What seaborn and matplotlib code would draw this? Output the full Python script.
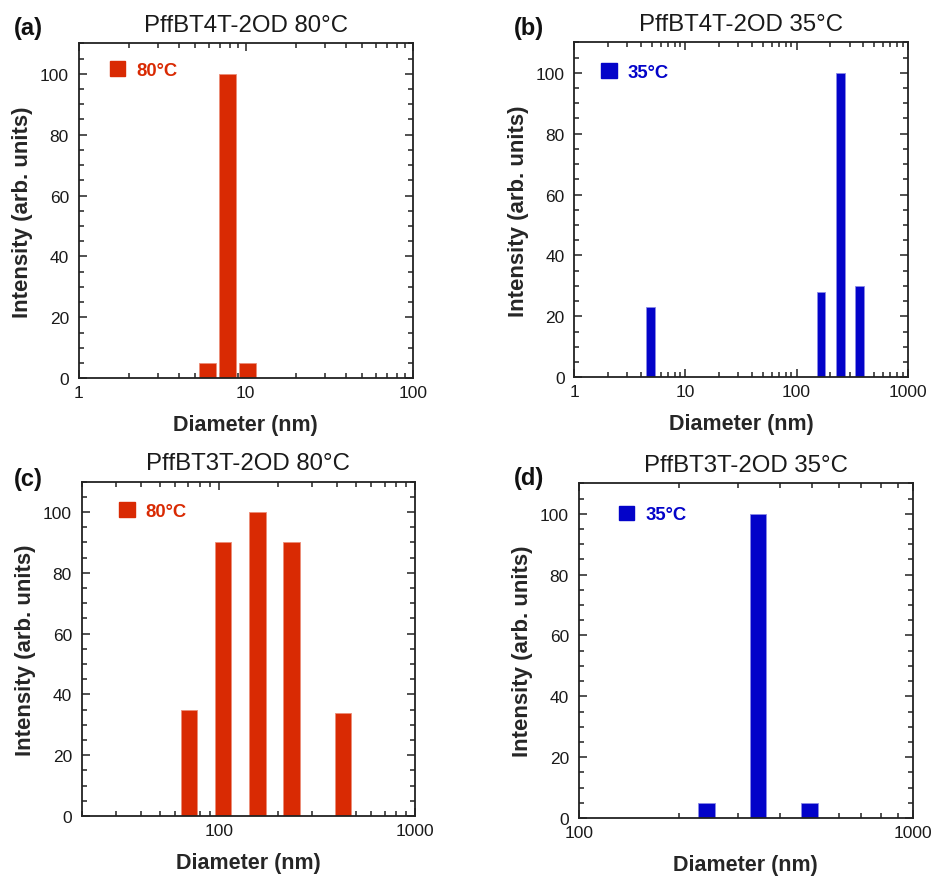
import numpy as np
import pandas as pd
import matplotlib
matplotlib.use("Agg")
import matplotlib.pyplot as plt
import matplotlib.ticker as mticker
from matplotlib.patches import Patch
import seaborn as sns

# Size distributions (diameter in nm, intensity in arb. units)
diam_a = [5.9, 7.8, 10.3]
int_a = [5, 100, 5]

diam_b = [4.83, 166, 247, 366]
int_b = [23, 28, 100, 30]

diam_c = [70.4, 105, 157, 235, 429]
int_c = [35, 90, 100, 90, 34]

diam_d = [241, 344, 491]
int_d = [5, 100, 5]

titles = ["PffBT4T-2OD 80°C", "PffBT4T-2OD 35°C",
          "PffBT3T-2OD 80°C", "PffBT3T-2OD 35°C"]
panel_tags = ["(a)", "(b)", "(c)", "(d)"]
temps = ["80°C", "35°C", "80°C", "35°C"]
xlims = [(1, 100), (1, 1000), (20, 1000), (100, 1000)]
ylim = (0, 110)

RED = "#D92A03"
BLUE = "#0303C9"
colors = [RED, BLUE, RED, BLUE]
edge_colors = ["#EC8E78", "#8A8AE6", "#EC8E78", "#8A8AE6"]

sns.set_theme(style="ticks")
plt.rcParams["font.family"] = ["Liberation Sans", "DejaVu Sans"]

W, H = 937, 879
fig = plt.figure(figsize=(W / 100, H / 100), dpi=100)

# axes boxes in pixels: left, top, right, bottom
boxes = [(78.7, 44.3, 412.7, 379.3),
         (574.3, 43.3, 907.7, 378.3),
         (81.7, 482.7, 415.0, 817.0),
         (578.7, 484.3, 913.0, 819.0)]
bar_px = [16.7, 8.8, 16.7, 16.7]
legend_off = [(31.3, 18.0), (27.0, 21.0), (37.6, 20.5), (40.0, 22.5)]
tag_pos = [(14, 29), (513.7, 28.5), (14, 480), (514, 478.5)]

panels = [(diam_a, int_a), (diam_b, int_b), (diam_c, int_c), (diam_d, int_d)]

for i, (diam, inten) in enumerate(panels):
    l, t, r, b = boxes[i]
    ax = fig.add_axes([l / W, 1 - b / H, (r - l) / W, (b - t) / H])
    xmin, xmax = xlims[i]

    # bar width: fixed on-screen width expressed in decades
    decades = np.log10(xmax / xmin)
    bar_dec = bar_px[i] / (r - l) * decades
    native = np.min(np.diff(np.log10(sorted(diam))))

    df = pd.DataFrame({"diameter": diam, "intensity": inten})
    sns.barplot(data=df, x="diameter", y="intensity", orient="x",
                native_scale=True, log_scale=(True, False),
                width=bar_dec / native, color=colors[i], saturation=1,
                errorbar=None, edgecolor=edge_colors[i], linewidth=0.6, ax=ax)

    ax.set_xlim(xmin, xmax)
    ax.set_ylim(*ylim)
    ax.xaxis.set_major_locator(mticker.LogLocator(base=10, numticks=10))
    ax.xaxis.set_minor_locator(mticker.LogLocator(base=10, subs=np.arange(2, 10), numticks=30))
    ax.xaxis.set_major_formatter(mticker.FuncFormatter(lambda v, _: f"{v:g}"))
    ax.xaxis.set_minor_formatter(mticker.NullFormatter())
    ax.yaxis.set_major_locator(mticker.MultipleLocator(20))
    ax.yaxis.set_minor_locator(mticker.MultipleLocator(5))

    ax.tick_params(which="both", direction="in", top=True, right=True,
                   width=1.1, color="#222222", labelcolor="#1a1a1a")
    ax.tick_params(which="major", length=5.5)
    ax.tick_params(which="minor", length=3.3)
    ax.tick_params(axis="y", pad=7, labelsize=12.5)
    ax.tick_params(axis="x", pad=5, labelsize=12.5)
    for s in ax.spines.values():
        s.set_visible(True)
        s.set_linewidth(1.3)
        s.set_color("#222222")

    ax.set_xlabel("Diameter (nm)", fontsize=15.5, fontweight="bold", labelpad=10)
    ax.set_ylabel("Intensity (arb. units)", fontsize=16, fontweight="bold", labelpad=5)
    ax.set_title(titles[i], fontsize=17.3, pad=9, color="#1a1a1a")

    ox, oy = legend_off[i]
    handle = Patch(facecolor=colors[i], edgecolor=colors[i])
    ax.legend([handle], [temps[i]], loc="upper left",
              bbox_to_anchor=(ox / (r - l), 1 - oy / (b - t)),
              frameon=False, borderpad=0, borderaxespad=0,
              handlelength=0.83, handleheight=0.83, handletextpad=0.6,
              prop={"weight": "bold", "size": 13.3}, labelcolor=colors[i])

    tx, ty = tag_pos[i]
    fig.text(tx / W, 1 - ty / H, panel_tags[i], fontsize=17, fontweight="bold",
             ha="left", va="center", color="#111111")

fig.savefig("out.png", dpi=100)
